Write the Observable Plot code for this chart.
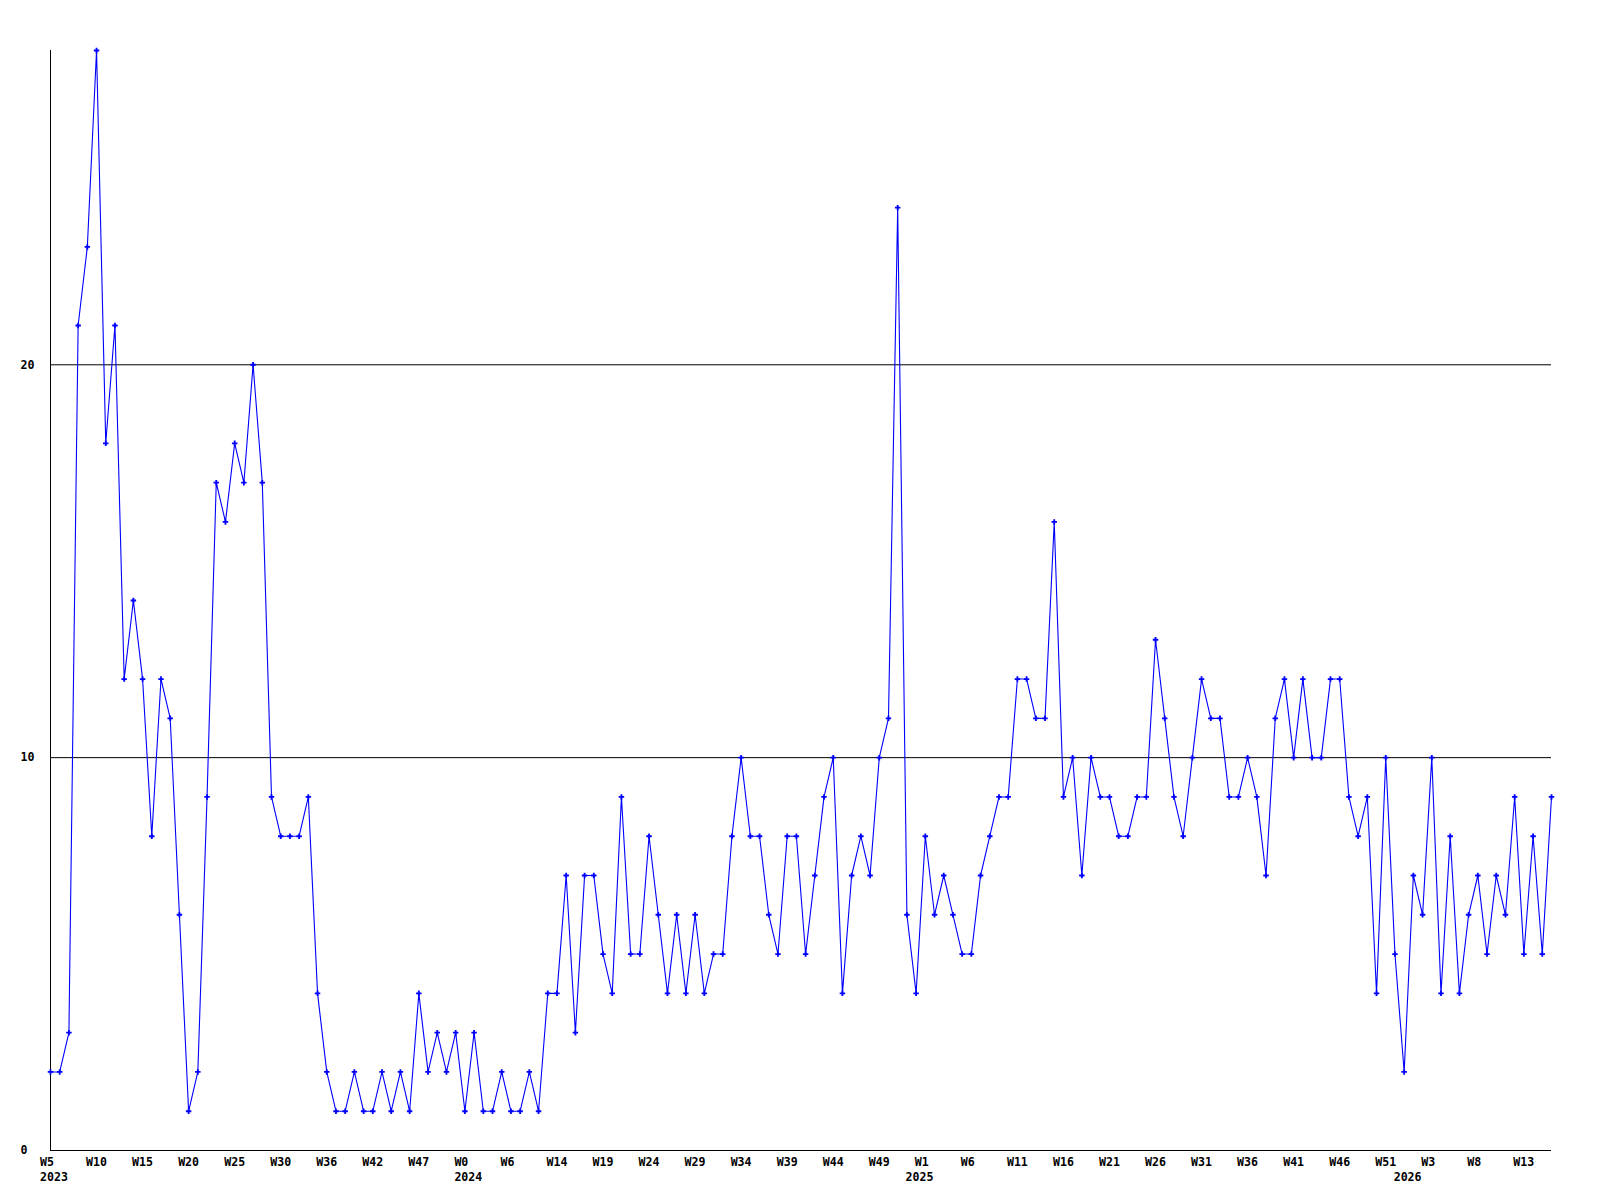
<!DOCTYPE html>
<html>
<head>
<meta charset="utf-8">
<script src="https://cdn.jsdelivr.net/npm/d3@7"></script>
<script src="https://cdn.jsdelivr.net/npm/@observablehq/plot@0.6"></script>
<style>
  html, body { margin: 0; padding: 0; background: #fff; }
  #chart svg { display: block; }
</style>
</head>
<body>
<div id="chart"></div>
<script>
// Weekly counts, one per data point (index 0 = 2023 W5)
const values = [
  2,2,3,21,23,28,18,21,12,14,
  12,8,12,11,6,1,2,9,17,16,
  18,17,20,17,9,8,8,8,9,4,
  2,1,1,2,1,1,2,1,2,1,
  4,2,3,2,3,1,3,1,1,2,
  1,1,2,1,4,4,7,3,7,7,
  5,4,9,5,5,8,6,4,6,4,
  6,4,5,5,8,10,8,8,6,5,
  8,8,5,7,9,10,4,7,8,7,
  10,11,24,6,4,8,6,7,6,5,
  5,7,8,9,9,12,12,11,11,16,
  9,10,7,10,9,9,8,8,9,9,
  13,11,9,8,10,12,11,11,9,9,
  10,9,7,11,12,10,12,10,10,12,
  12,9,8,9,4,10,5,2,7,6,
  10,4,8,4,6,7,5,7,6,9,
  5,8,5,9
];

// Week tick labels, one every 5th data point
const weekLabels = [
  "W5","W10","W15","W20","W25","W30","W36","W42","W47",
  "W0","W6","W14","W19","W24","W29","W34","W39","W44","W49",
  "W1","W6","W11","W16","W21","W26","W31","W36","W41","W46","W51",
  "W3","W8","W13"
];
const tickStep = 5;

// Year labels and the data point they sit under
const yearLabels = ["2023","2024","2025","2026"];
const yearIndex = [0, 45, 94, 147];

// Y tick values
const yTicks = [0, 10, 20];
const yGrid = [10, 20];
const yMax = 28;

const points = values.map((v, i) => ({i, v}));
const weekTicks = weekLabels.map((label, k) => ({i: k * tickStep, label}));
const years = yearLabels.map((label, k) => ({i: yearIndex[k], label}));

const font = "DejaVu Sans Mono, monospace";
const fs = 11.6;

const chart = Plot.plot({
  width: 1600,
  height: 1200,
  marginLeft: 50,
  marginRight: 49,
  marginTop: 50,
  marginBottom: 50,
  style: {fontFamily: font, fontSize: fs + "px", fontWeight: "bold", background: "#fff"},
  x: {domain: [0, values.length - 1], axis: null},
  y: {domain: [0, yMax], axis: null},
  marks: [
    Plot.ruleY(yGrid, {stroke: "#000", strokeWidth: 1}),
    Plot.ruleY([0], {stroke: "#000", strokeWidth: 1}),
    Plot.ruleX([0], {y1: 0, y2: yMax, stroke: "#000", strokeWidth: 1}),
    Plot.line(points, {x: "i", y: "v", stroke: "#0000ff", strokeWidth: 1.1}),
    Plot.dot(points, {x: "i", y: "v", symbol: "cross", r: 2.3, fill: "#0000ff", stroke: "none"}),
    Plot.text(yTicks, {x: 0, y: d => d, text: d => String(d), dx: -30, textAnchor: "start", fill: "#000",
      fontFamily: font, fontWeight: "bold", fontSize: fs}),
    Plot.text(weekTicks, {x: "i", y: 0, text: "label", dx: -10.5, dy: 12, textAnchor: "start", fill: "#000",
      fontFamily: font, fontWeight: "bold", fontSize: fs}),
    Plot.text(years, {x: "i", y: 0, text: "label", dx: -10.5, dy: 27, textAnchor: "start", fill: "#000",
      fontFamily: font, fontWeight: "bold", fontSize: fs})
  ]
});

document.getElementById("chart").appendChild(chart);
</script>
</body>
</html>
